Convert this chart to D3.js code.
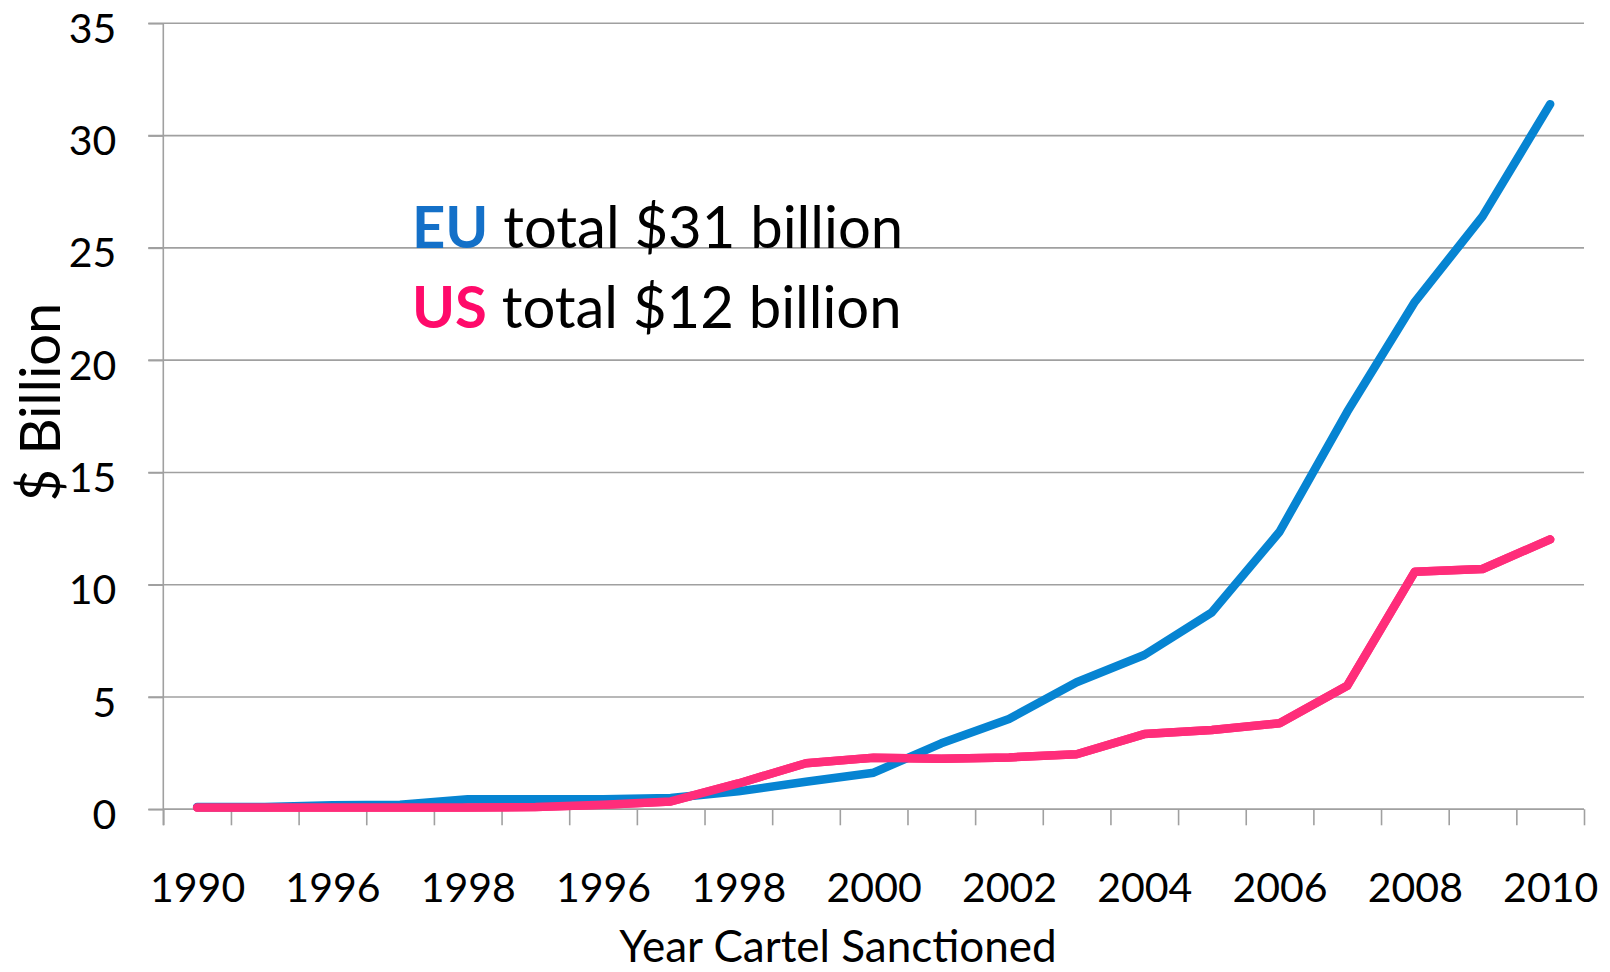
<!DOCTYPE html>
<html>
<head>
<meta charset="utf-8">
<script src="https://cdn.jsdelivr.net/npm/d3@7"></script>
<style>
  html, body { margin: 0; padding: 0; background: #ffffff; }
  svg { display: block; }
  text { font-family: Lato, "Open Sans", "Noto Sans", sans-serif; fill: #000; }
</style>
</head>
<body>
<svg id="chart" width="1610" height="972"></svg>
<script>
// ---- data ----
const categories = d3.range(21); // 21 sanction periods along the x axis
const tickLabels = ["1990", "", "1996", "", "1998", "", "1996", "", "1998", "", "2000", "",
                    "2002", "", "2004", "", "2006", "", "2008", "", "2010"];
const euValues = [0.1, 0.1, 0.18, 0.2, 0.45, 0.45, 0.45, 0.5, 0.8, 1.23, 1.63, 2.94,
                  4.02, 5.66, 6.87, 8.77, 12.36, 17.7, 22.6, 26.4, 31.4];
const usValues = [0.08, 0.08, 0.08, 0.08, 0.08, 0.1, 0.2, 0.35, 1.15, 2.05, 2.3, 2.25,
                  2.31, 2.45, 3.35, 3.53, 3.83, 5.5, 10.58, 10.7, 12.02];
const yTicks = [0, 5, 10, 15, 20, 25, 30, 35];
const legendItems = [
  { key: "EU", rest: " total $31 billion" },
  { key: "US", rest: " total $12 billion" }
];
const colors = { EU: "#0684d2", US: "#ff2d7a" };
const labelColors = { EU: "#1470c8", US: "#ff0a6a" };

// ---- layout ----
const svg = d3.select("#chart");
const pL = 163.3, pR = 1584, pT = 23.3, pB = 809.3;

const x = d3.scalePoint().domain(categories).range([pL, pR]).padding(0.5);
const xEdge = d3.scaleLinear().domain([0, categories.length]).range([pL, pR]);
const y = d3.scaleLinear().domain([0, 35]).range([pB, pT]);

// gridlines
svg.append("g")
  .selectAll("line")
  .data(yTicks)
  .join("line")
  .attr("x1", pL - 15).attr("x2", pR)
  .attr("y1", d => y(d)).attr("y2", d => y(d))
  .attr("stroke", "#a0a0a0").attr("stroke-width", 1.6);

// y axis
const yAxis = svg.append("g")
  .attr("transform", `translate(${pL},0)`)
  .call(d3.axisLeft(y).tickValues(yTicks).tickSize(15).tickPadding(32).tickFormat(d3.format("d")));
yAxis.select(".domain").attr("stroke", "#a0a0a0").attr("stroke-width", 1.6)
  .attr("d", `M0,${pT}V${pB + 16}`);
yAxis.selectAll(".tick line").attr("stroke", "#a0a0a0").attr("stroke-width", 1.6);
yAxis.selectAll(".tick text")
  .attr("dy", 19).attr("font-size", 41).attr("font-family", "Lato, sans-serif").attr("fill", "#000");

// x axis: tick marks at category boundaries
const xTickAxis = svg.append("g")
  .attr("transform", `translate(0,${pB})`)
  .call(d3.axisBottom(xEdge).tickValues(d3.range(categories.length + 1)).tickSize(16).tickFormat(""));
xTickAxis.select(".domain").attr("stroke", "#a0a0a0").attr("stroke-width", 1.6)
  .attr("d", `M${pL},0H${pR}`);
xTickAxis.selectAll(".tick line").attr("stroke", "#a0a0a0").attr("stroke-width", 1.6);

// x axis labels at category centres
const xLabelAxis = svg.append("g")
  .attr("transform", `translate(0,${pB})`)
  .call(d3.axisBottom(x).tickSize(0).tickFormat(i => tickLabels[i]));
xLabelAxis.select(".domain").remove();
xLabelAxis.selectAll(".tick text")
  .attr("y", 93).attr("dy", 0).attr("font-size", 41)
  .attr("font-family", "Lato, sans-serif").attr("fill", "#000");

// lines
const line = d3.line().x((d, i) => x(categories[i])).y(d => y(d));
[["US", usValues], ["EU", euValues], ["US", usValues]].forEach(([k, vals]) => {
  svg.append("path")
    .datum(vals)
    .attr("d", line)
    .attr("fill", "none")
    .attr("stroke", colors[k])
    .attr("stroke-width", 8.5)
    .attr("stroke-linecap", "round")
    .attr("stroke-linejoin", "round");
});

// legend text
const legend = svg.append("g");
legendItems.forEach((it, i) => {
  const t = legend.append("text")
    .attr("x", 412).attr("y", 248 + i * 80)
    .attr("font-size", 58);
  t.append("tspan").attr("font-weight", "bold").attr("fill", labelColors[it.key]).text(it.key);
  t.append("tspan").attr("fill", "#000").text(it.rest);
});

// axis titles
svg.append("text")
  .attr("transform", "translate(60,402) rotate(-90)")
  .attr("text-anchor", "middle")
  .attr("font-size", 56)
  .text("$ Billion");

svg.append("text")
  .attr("x", 838).attr("y", 962)
  .attr("text-anchor", "middle")
  .attr("font-size", 44)
  .text("Year Cartel Sanctioned");
</script>
</body>
</html>
